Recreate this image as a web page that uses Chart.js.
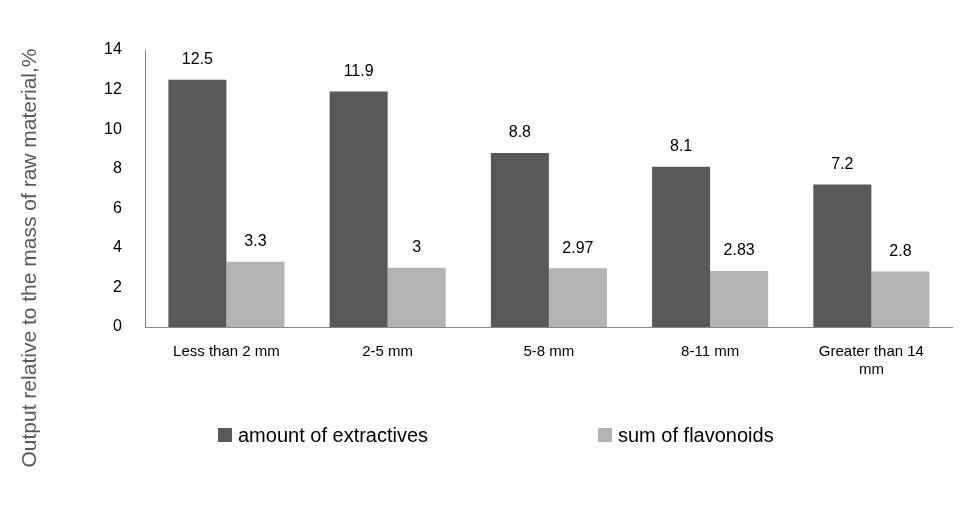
<!DOCTYPE html>
<html><head><meta charset="utf-8">
<script src="https://cdn.jsdelivr.net/npm/chart.js@4.4.0/dist/chart.umd.min.js"></script>
<style>html,body{margin:0;padding:0;background:#fff}#w{width:960px;height:515px}</style>
</head><body><div id="w"><canvas id="c"></canvas></div>
<script>
const categories = [["Less than 2 mm"], ["2-5 mm"], ["5-8 mm"], ["8-11 mm"], ["Greater than 14", "mm"]];
const extractives = [12.5, 11.9, 8.8, 8.1, 7.2];
const flavonoids = [3.3, 3, 2.97, 2.83, 2.8];
const extractLabels = ["12.5", "11.9", "8.8", "8.1", "7.2"];
const flavLabels = ["3.3", "3", "2.97", "2.83", "2.8"];
const yTicks = [0, 2, 4, 6, 8, 10, 12, 14];
const yTitle = 'Output relative to the mass of raw material,%';
const FONT = '"Liberation Sans", Arial, sans-serif';

const labelPlugin = {
  id: 'vals',
  afterDatasetsDraw(chart) {
    const ctx = chart.ctx;
    ctx.save();
    ctx.font = '16px ' + FONT;
    ctx.fillStyle = '#000';
    ctx.textAlign = 'center';
    ctx.textBaseline = 'bottom';
    const lbls = [extractLabels, flavLabels];
    chart.data.datasets.forEach((ds, i) => {
      chart.getDatasetMeta(i).data.forEach((bar, j) => {
        ctx.fillText(lbls[i][j], bar.x, bar.y - 12);
      });
    });
    // y title
    ctx.save();
    ctx.translate(30, 258);
    ctx.rotate(-Math.PI / 2);
    ctx.font = '21px ' + FONT;
    ctx.fillStyle = '#595959';
    ctx.textBaseline = 'middle';
    ctx.fillText(yTitle, 0, 0);
    ctx.restore();
    // legend
    const items = [[218, chart.data.datasets[0]], [598, chart.data.datasets[1]]];
    ctx.font = '20px ' + FONT;
    ctx.textAlign = 'left';
    ctx.textBaseline = 'middle';
    items.forEach(([x, ds]) => {
      ctx.fillStyle = ds.backgroundColor;
      ctx.fillRect(x, 428, 14, 14);
      ctx.fillStyle = '#000';
      ctx.fillText(ds.label, x + 20, 436);
    });
    ctx.restore();
  }
};

new Chart(document.getElementById('c'), {
  type: 'bar',
  data: {
    labels: categories,
    datasets: [
      { label: 'amount of extractives', data: extractives, backgroundColor: '#595959' },
      { label: 'sum of flavonoids', data: flavonoids, backgroundColor: '#b3b3b3' }
    ]
  },
  options: {
    responsive: true, maintainAspectRatio: false, animation: false,
    layout: { padding: { left: 80, right: 8, top: 50, bottom: 120 } },
    datasets: { bar: { barPercentage: 1, categoryPercentage: 0.72 } },
    plugins: { legend: { display: false }, tooltip: { enabled: false } },
    scales: {
      x: {
        grid: { display: false, drawTicks: false },
        border: { color: '#888' },
        ticks: { color: '#000', padding: 16, maxRotation: 0, font: { size: 15, family: FONT } }
      },
      y: {
        min: 0, max: 14,
        afterBuildTicks: s => { s.ticks = yTicks.map(v => ({ value: v })); },
        grid: { display: false, drawTicks: false },
        border: { color: '#888' },
        ticks: { color: '#000', padding: 24, font: { size: 16, family: FONT } }
      }
    }
  },
  plugins: [labelPlugin]
});
</script></body></html>
